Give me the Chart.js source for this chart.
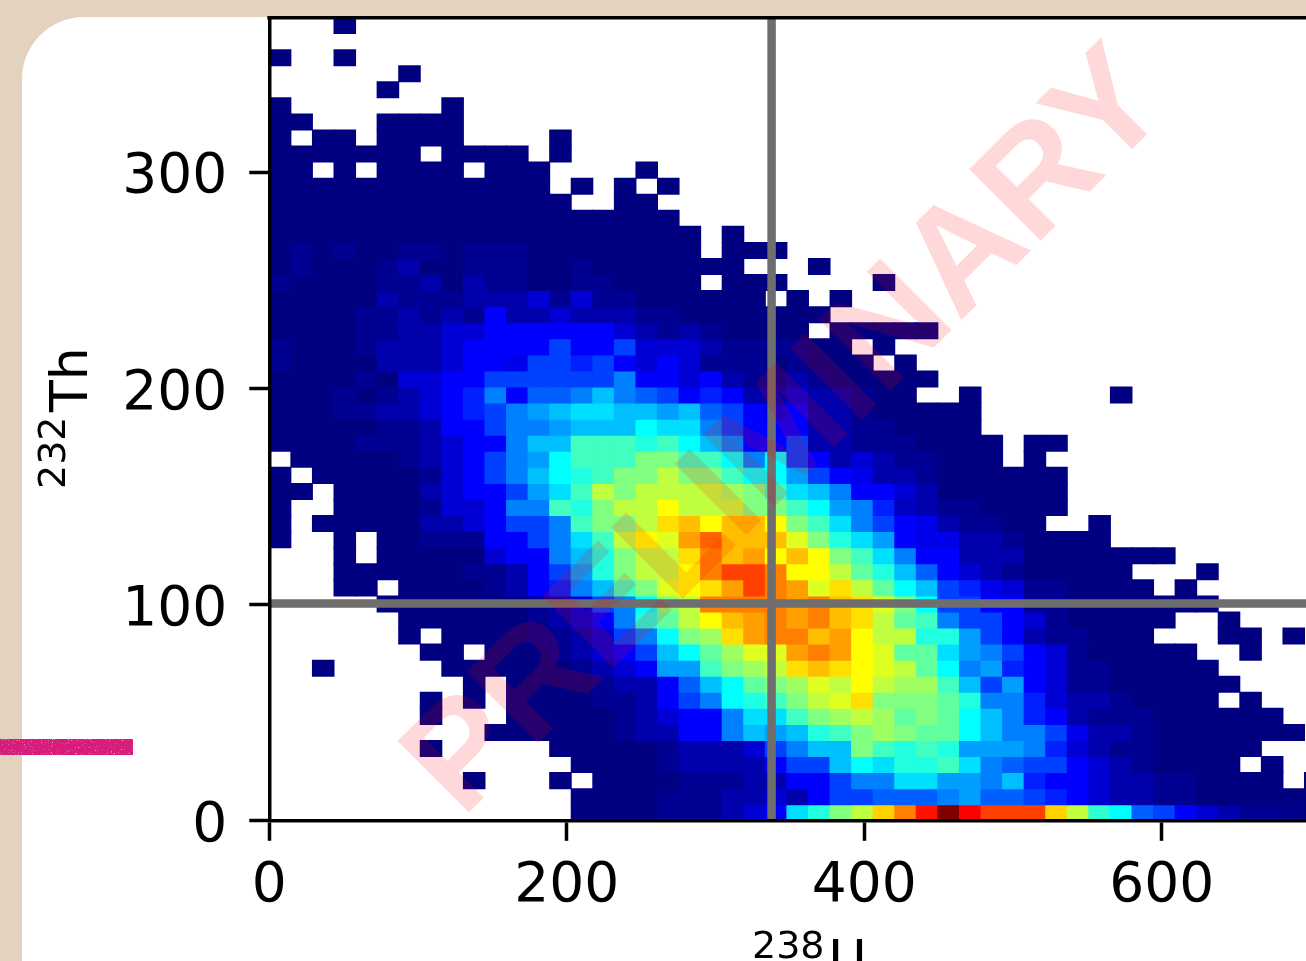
<!DOCTYPE html>
<html><head><meta charset="utf-8">
<script src="https://cdn.jsdelivr.net/npm/chart.js@4"></script>
<style>
html,body{margin:0;padding:0;width:1306px;height:961px;overflow:hidden;background:#e3d2bd}
#panel{position:absolute;left:22px;top:17px;width:1400px;height:1100px;background:#fff;border-top-left-radius:62px}
canvas{position:absolute;left:0;top:0}
#smudge{position:absolute;left:-6px;top:739px;width:139px;height:16px;background:#d81f7c;filter:url(#grain)}
</style></head><body>
<svg width="0" height="0" style="position:absolute"><filter id="grain" x="-5%" y="-30%" width="110%" height="160%"><feTurbulence baseFrequency=".7" numOctaves="2" seed="4" result="t"/><feColorMatrix in="t" type="matrix" values="0 0 0 0 0 0 0 0 0 0 0 0 0 0 0 0 0 0 -2.4 2.05" result="m"/><feComposite in="SourceGraphic" in2="m" operator="in"/><feGaussianBlur stdDeviation=".7"/></filter></svg>
<div id="panel"></div>
<canvas id="c" width="1306" height="961"></canvas>
<div id="smudge"></div>
<script>
// Heat-map levels (0 = empty bin), row0 is the bottom row, index = column
const row0=[0,0,0,0,0,0,0,0,0,0,0,0,0,0,1,1,1,1,2,2,2,3,4,5,8.5,9.5,11,12,13.7,15,16.7,18,17,16,16,16,13.7,12,9.7,9,6.5,6,5,4,3,2,2,1.5,1];
const row1=[0,0,0,0,0,0,0,0,0,0,0,0,0,0,1,1,1,1,2,2,2,3,3,4,3,5,6,6,6.5,6.5,6.5,7,7.5,6.5,6.5,6,5.5,5,4,3,3,2,2,1,1,1,1,1,1];
const row2=[0,0,0,0,0,0,0,0,0,1,0,0,0,1,0,1,1,1,1,2,2,2,3,3,5,5,6,7,7,8.5,8.5,7.5,7.5,7,8,5.5,5,5,4,3,3,2,2,1,1,1,1,0,1];
const row3=[0,0,0,0,0,0,0,0,0,0,0,0,0,0,1,1,1,1,2,3,3,3,3,5,6,6,8,9,8.5,9.5,9.5,10,8.5,7,6.5,6,6,5,4,3,2,1,1,1,1,0,1];
const row4=[0,0,0,0,0,0,0,1,0,0,0,0,0,1,1,1,1,1,2,3,3,3,4,6,7,8,8,11,10,9.5,10,9.5,7.5,7.5,7.5,7,5.5,4,3,2,2,1,1,1,1,1];
const row5=[0,0,0,0,0,0,0,0,0,0,1,1,1,1,1,1,2,3,3,5,5,7,8,7.5,8,9.5,10,11,11.5,11,10.5,10.5,9,8,7,7,6,4.5,3,3,2,1,1,1,1,1,1,1];
const row6=[0,0,0,0,0,0,0,1,0,0,0,1,1,1,1,1,2,3,4,5,5,7,8.5,8.5,10,11,11.5,12,11.5,10.5,11,10.5,9,8,7,5.5,5,3,2,2,2,1,1,1,1,1,1];
const row7=[0,0,0,0,0,0,0,1,0,1,0,1,1,1,1,2,2,3,5,6,7,9,9.5,10,11,12,12.5,13.5,11,11,11,10.5,9.5,7,7,5.5,4,3,3,2,1,1,1,1,0,1];
const row8=[0,0,0,0,0,0,0,0,0,1,0,1,1,1,1,2,3,3,5,6.5,8,9,10.5,11,11.5,12.5,12,13,12,11.5,11.5,10,8,6,7.5,5,4,2,2,1,1,1,1,1,1];
const row9=[0,0,1,0,0,0,0,0,1,1,1,1,1,1,2,3,4,5,7.5,7.5,10,11,11.5,12,13.5,14,13.5,13,12.5,12,10.5,9,7,7.5,5.5,5,4,2,2,1,1,1,1,1];
const row10=[0,0,0,0,0,0,0,1,1,0,1,1,1,2,3,4,5,6,8,9,10.5,11.5,12.5,12.5,14.5,15,14.5,13,12.5,10.5,10.5,8.5,7.5,7,6,5,4,2,1,1,1,1,1,0,0,1];
const row11=[0,0,0,0,0,0,1,0,1,1,1,1,2,2,3,4,6,7,9,11,11.5,13.5,14.5,15,15,14,14.5,13,12,12,9.5,9.5,7.5,6,5,3,2,2,1,1,1,0,0,0,1,1,0,1];
const row12=[0,0,0,0,0,0,1,1,1,1,1,1,2,3,4,5,7,9.5,10.5,12,13,14,14.5,15,14.5,15,14,13.5,12,10.5,10,7,6,6,5,4,2,1,1,1,1,1,0,0,1];
const row13=[0,0,0,0,0,1,1,1,1,1,1,1,2,3,4,6,7,9,11,12,15,15,15,15,14.5,15,14,13.5,12.5,11,9,6,6,5,5,2,2,1,1,1,1,1,1,1];
const row14=[0,0,0,1,1,0,1,1,1,1,2,3,5,5.5,7,8,10,11,12.5,13,13.5,14.5,16,15,14.5,12.5,13.5,12,10.5,9,8,6,5.5,4.5,4,2,2,1,1,1,1,0,1];
const row15=[0,0,0,1,1,1,1,1,1,2,2,3,5,6,7.5,9.5,11,12,12,13,15,16,16,15,13,13,12,10.5,9.5,8,6.5,5,4,3,2,1,1,1,1,1,0,0,0,1];
const row16=[0,0,0,1,0,1,1,1,1,1,4,5,5,7,8,9.5,11,12,12,13.5,15,14,14.5,13,14,13,11,10,8.5,7,5,5,3,3,3,1,1,1,1,1,1,1];
const row17=[1,0,0,1,0,1,1,2,2,2,5,5,6,7,8.5,10,12,13,12.5,14.5,15.5,14,14,14,12.5,11,9.5,8.5,7.5,5,4.5,4.5,3,3,2,1,1,1,1];
const row18=[1,0,1,1,1,1,1,3,3,4,5,6,6,7,10,11,11,12,13.5,14,13,14,14,13,11,10,8.5,7,6,5,4.5,3,2,2,1,1,0,0,1];
const row19=[1,0,0,1,1,1,1,2,4,4,5,7,7,10,9.5,11,12,12,13,12,12,12,11,11,10,9,7.5,7,5.5,3.5,3,2,2,1,1,1,1];
const row20=[1,1,0,1,1,1,1,3,4,5,5,6,7.5,8.5,10,12,11,12,12,12,12,11.5,11,10,8.5,8,7,5,5,4,3,1,1,1,1,1,1];
const row21=[1,0,1,1,1,1,1,2,4,5,6,7,8,9,9.5,10,11,11,12,11,11,10,9,9,7.5,6,5,4.5,3,3,2,1,1,1,1,1,1];
const row22=[0,1,1,1,1,1,2,3,4,5,6,7,7.5,9,10,10,10,11,11,10,10,9,7,9,6,5,3,4,3,2,2,1,1,1,0,1,0];
const row23=[1,1,1,1,2,2,2,3,4,5,5,7,8,8,10,10,10,9.5,10,9,8,7,5,5,6,3,3,2,2,2,1,1,1,1,0,1,1];
const row24=[1,1,1,1,1,2,2,3,5,5,6,7,7,7.5,8,8,8,9,8.5,8.5,7,6,5,5,5,3,3,2,2,1,1,1,1];
const row25=[1,1,1,2,2,3,3,4,5,5.5,6,7,7.5,8,8.5,8.5,8,8,7.5,8,6.5,6,5,4,5,3,3,2,1,1,1,1,1];
const row26=[1,1,1,2,1,2,3,4,5,5.5,7,5,6.5,6.5,7,8,7,6.5,6,5,5.5,5,3,3,4,3,3,2,1,1,0,0,1,0,0,0,0,0,0,1];
const row27=[1,1,1,1,2,1,4,4,5,5,6,6,6,6,6,6,7,5,5,4,5,3,2,2,3,2,1,1,1,1,1];
const row28=[2,1,1,1,1,3,3,3,4,5,5,4.5,6,6,5.5,6,5,4,5,4,2,2,2,1,2,1,1,1,0,1];
const row29=[2,1,1,1,2,3,3,3,4,5,5,5,5,6,5,5,6,4,4,4,3,2,2,2,2,1,1,0,1];
const row30=[1,1,1,1,2,2,3,3,4,4,5,5,5,5,5,5,4,3,2,3,2,1,1,1,1,0,1,1,1,1,1];
const row31=[1,1,1,1,2,2,3,2,3,2,5,3,3,4,3,3,3,2,2,1,1,1,1,1,1,1];
const row32=[1,1,1,1,1,3,2,2,2,3,3,3,4,2,4,2,2,1,1,1,1,1,1,0,1,0,1];
const row33=[2,1,1,1,1,2,2,3,1,3,2,2,1,1,2,2,1,1,1,1,0,1,1,1,0,0,0,0,1];
const row34=[1,2,1,1,1,2,3,1,1,2,2,2,1,1,2,1,1,1,1,1,1,1,0,0,0,1];
const row35=[1,2,1,2,1,1,2,2,1,2,2,2,1,1,1,1,1,1,1,1,0,1,1,1];
const row36=[1,1,1,1,1,1,1,1,1,1,1,1,1,1,1,1,1,1,1,1,0,1];
const row37=[1,1,1,1,1,1,1,1,1,1,1,1,1,1,1,1,1,1,1];
const row38=[1,1,1,1,1,1,1,1,1,1,1,1,1,1,0,0,1,1];
const row39=[1,1,1,1,1,1,1,1,1,1,1,1,1,0,1,0,1,0,1];
const row40=[1,1,0,1,0,1,1,1,1,0,1,1,1,0,0,0,0,1];
const row41=[1,1,1,1,1,1,1,0,1,1,1,1,0,1];
const row42=[1,0,1,1,0,1,1,1,1,0,0,0,0,1];
const row43=[1,1,0,0,0,1,1,1,1];
const row44=[1,0,0,0,0,0,0,0,1];
const row45=[0,0,0,0,0,1];
const row46=[0,0,0,0,0,0,1];
const row47=[1,0,0,1];
const row48=[];
const row49=[0,0,0,1];
const rows=[row0,row1,row2,row3,row4,row5,row6,row7,row8,row9,row10,row11,row12,row13,row14,row15,row16,row17,row18,row19,row20,row21,row22,row23,row24,row25,row26,row27,row28,row29,row30,row31,row32,row33,row34,row35,row36,row37,row38,row39,row40,row41,row42,row43,row44,row45,row46,row47,row48,row49];
const binU=14.5, binTh=7.43;
const xTicks=[0,200,400,600];
const yTicks=[0,100,200,300];
const uMean=337.7, thMean=100.5;
const xLimit=697, yLimit=371.5;

// jet colour map over the levels
const stops=[[1,0,0,128],[2,0,0,146],[3,0,0,172],[4,0,0,212],[5,0,0,255],[9,0,255,255],[11,128,255,128],[13,255,255,0],[17,255,0,0],[18,128,0,0]];
function jet(v){
  for(let i=1;i<stops.length;i++){
    if(v<=stops[i][0]){
      const a=stops[i-1],b=stops[i],t=(v-a[0])/(b[0]-a[0]);
      return `rgb(${Math.round(a[1]+(b[1]-a[1])*t)},${Math.round(a[2]+(b[2]-a[2])*t)},${Math.round(a[3]+(b[3]-a[3])*t)})`;
    }
  }
  return 'rgb(128,0,0)';
}
const cells=[],cellColors=[];
rows.forEach((row,r)=>row.forEach((v,c)=>{
  if(v>0){cells.push({x:(c+.5)*binU,y:[r*binTh,(r+1)*binTh]});cellColors.push(jet(v));}
}));

const FONT='"DejaVu Sans"';
const overlay={id:'overlay',afterDraw(chart){
  const g=chart.ctx,a=chart.chartArea;
  g.save();
  // top spine
  g.fillStyle='#000';g.fillRect(a.left-2,a.top-1.5,a.right-a.left+2,3.5);
  // axis titles
  g.textBaseline='alphabetic';g.textAlign='left';g.fillStyle='#000';
  g.save();g.translate(87,412);g.rotate(-Math.PI/2);
  g.font='52px '+FONT;g.fillText('Th',0,0);g.restore();
  g.save();g.translate(65,489);g.rotate(-Math.PI/2);
  g.font='38px '+FONT;g.fillText('232',0,0);g.restore();
  g.font='38px '+FONT;g.fillText('238',752,958);
  g.font='52px '+FONT;g.fillText('U',828.5,977);
  // watermark
  g.save();g.translate(462,819.5);g.rotate(-Math.PI/4);
  g.font='bold 147px "Liberation Sans"';g.fillStyle='rgba(255,0,0,0.15)';
  g.fillText('PRELIMINARY',0,0);g.restore();
  g.restore();
}};
function noPadding(s){s.paddingTop=0;s.paddingBottom=0;s.paddingLeft=0;s.paddingRight=0;}

new Chart(document.getElementById('c'),{
  type:'bar',
  data:{datasets:[
    {type:'line',data:[{x:uMean,y:0},{x:uMean,y:yLimit}],borderColor:'#6e6e6e',borderWidth:8.5,pointRadius:0,order:1,borderCapStyle:'butt'},
    {type:'line',data:[{x:0,y:thMean},{x:xLimit,y:thMean}],borderColor:'#6e6e6e',borderWidth:8.5,pointRadius:0,order:1,borderCapStyle:'butt'},
    {data:cells,backgroundColor:cellColors,barPercentage:1,categoryPercentage:1,inflateAmount:0.5,order:2}
  ]},
  options:{
    responsive:false,animation:false,devicePixelRatio:1,
    layout:{autoPadding:false,padding:{top:17.5,right:0,left:0,bottom:0}},
    plugins:{legend:{display:false},tooltip:{enabled:false}},
    events:[],
    scales:{
      x:{type:'linear',offset:false,min:0,max:xLimit,
        afterFit(s){s.height=140.2;noPadding(s);},
        afterBuildTicks(s){s.ticks=xTicks.map(value=>({value}));},
        border:{display:true,width:3.5,color:'#000',z:1},
        grid:{offset:false,drawOnChartArea:false,drawTicks:true,tickLength:20,tickWidth:3.5,tickColor:'#000',z:1},
        ticks:{font:{family:FONT,size:55},color:'#000',padding:13,maxRotation:0,autoSkip:false}
      },
      y:{type:'linear',min:0,max:yLimit,
        afterFit(s){s.width=269.3;noPadding(s);},
        afterBuildTicks(s){s.ticks=yTicks.map(value=>({value}));},
        border:{display:true,width:3.5,color:'#000',z:1},
        grid:{drawOnChartArea:false,drawTicks:true,tickLength:20,tickWidth:3.5,tickColor:'#000',z:1},
        ticks:{font:{family:FONT,size:55},color:'#000',padding:22,labelOffset:6,autoSkip:false}
      }
    }
  },
  plugins:[overlay]
});
</script>
</body></html>
